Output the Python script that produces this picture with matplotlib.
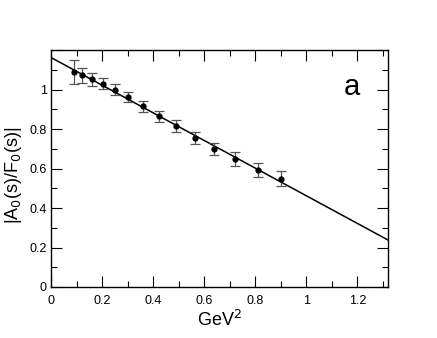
import matplotlib
matplotlib.use('Agg')
from matplotlib import pyplot as plt
from matplotlib.ticker import MultipleLocator

# data points (s in GeV^2)
s_vals = [0.09, 0.1225, 0.16, 0.2025, 0.25, 0.3025, 0.36, 0.4225,
          0.49, 0.5625, 0.64, 0.7225, 0.81, 0.9025]
ratio = [1.090, 1.071, 1.051, 1.030, 1.000, 0.961, 0.915, 0.865,
         0.814, 0.756, 0.699, 0.648, 0.594, 0.548]
ratio_err = [0.062, 0.040, 0.034, 0.027, 0.027, 0.025, 0.027, 0.027,
             0.031, 0.031, 0.031, 0.035, 0.036, 0.037]

# straight-line fit: intercept, slope
fit_a = 1.162
fit_b = -0.700
fit_x = [0.0, 1.32]

plt.rcParams['font.family'] = ['Liberation Sans', 'DejaVu Sans']


def xfmt(v, pos):
    return '%g' % round(v, 2)


def yfmt(v, pos):
    if v > 1.15:
        return ''  # no label at the top edge
    return '%g' % round(v, 2)


fig = plt.figure(figsize=(4.37, 3.38), dpi=100)
ax = fig.add_axes([0.1167, 0.1509, 0.7712, 0.7011])

ax.plot(fit_x, [fit_a + fit_b * x for x in fit_x], color='black', lw=1.1)
ax.errorbar(s_vals, ratio, yerr=ratio_err, fmt='o', color='black', ms=3.5,
            ecolor='#555555', elinewidth=0.9, capsize=3.5, capthick=0.9)

ax.set_xlim(0, 1.32)
ax.set_ylim(0, 1.2)
ax.xaxis.set_major_locator(MultipleLocator(0.2))
ax.xaxis.set_minor_locator(MultipleLocator(0.1))
ax.yaxis.set_major_locator(MultipleLocator(0.2))
ax.yaxis.set_minor_locator(MultipleLocator(0.1))
ax.xaxis.set_major_formatter(plt.FuncFormatter(xfmt))
ax.yaxis.set_major_formatter(plt.FuncFormatter(yfmt))
ax.tick_params(which='both', direction='in', top=True, right=True, labelsize=9, width=0.8)
ax.tick_params(which='major', length=8)
ax.tick_params(which='minor', length=4)
ax.tick_params(axis='x', pad=6)
ax.tick_params(axis='y', pad=3)
for sp in ax.spines.values():
    sp.set_linewidth(1.0)

ax.set_xlabel('GeV$^2$', fontsize=13, labelpad=2)
ax.set_ylabel('|A$_0$(s)/F$_0$(s)|', fontsize=13)
ax.yaxis.set_label_coords(-0.08, 0.47)
ax.text(0.893, 0.844, 'a', transform=ax.transAxes, fontsize=21, ha='center', va='center')

fig.savefig('out.png', dpi=100)
